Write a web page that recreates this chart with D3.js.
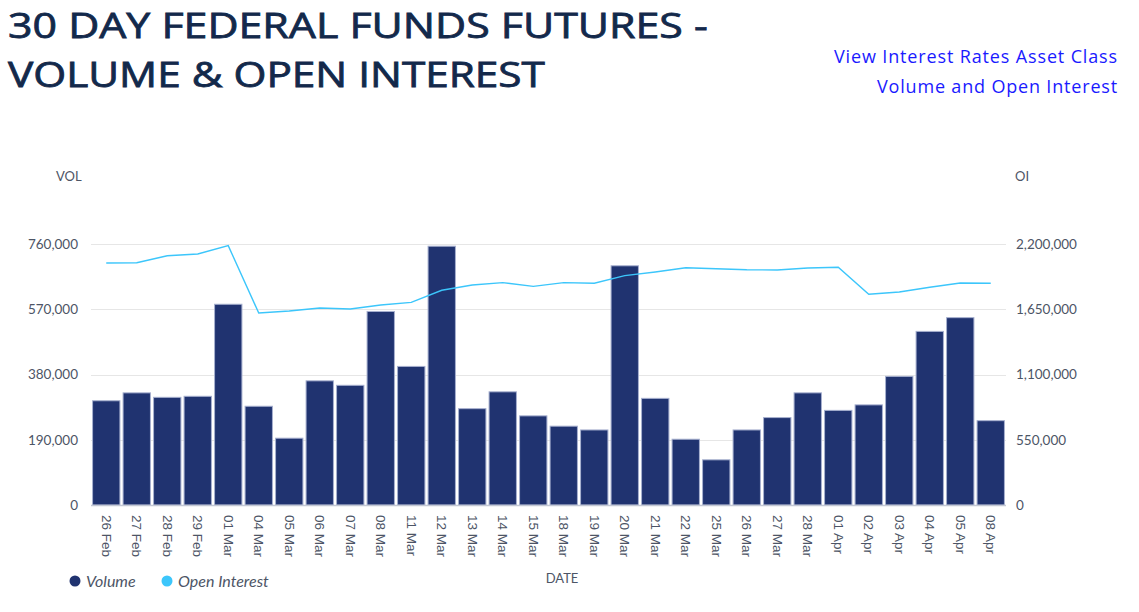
<!DOCTYPE html>
<html>
<head>
<meta charset="utf-8">
<script src="https://cdn.jsdelivr.net/npm/d3@7"></script>
<style>
  body { margin: 0; background: #fff; }
  svg { display: block; font-family: "Lato", "Open Sans", sans-serif; }
  .title { fill: #13294b; stroke: #13294b; stroke-width: 0.8px; font-family: "Open Sans", sans-serif; font-weight: 400; font-size: 35px; }
  .link { fill: #1a1aff; font-family: "Open Sans", sans-serif; font-size: 18px; }
  .axis-title { fill: #4d5566; font-size: 13px; }
  .tick text { fill: #4d5566; font-size: 13.5px; }
  .legend text { fill: #4d5566; font-size: 16px; font-style: italic; }
</style>
</head>
<body>
<script>

// categories
var dates = ['26 Feb', '27 Feb', '28 Feb', '29 Feb', '01 Mar', '04 Mar', '05 Mar', '06 Mar', '07 Mar', '08 Mar',
  '11 Mar', '12 Mar', '13 Mar', '14 Mar', '15 Mar', '18 Mar', '19 Mar', '20 Mar', '21 Mar', '22 Mar',
  '25 Mar', '26 Mar', '27 Mar', '28 Mar', '01 Apr', '02 Apr', '03 Apr', '04 Apr', '05 Apr', '08 Apr'];

// volume (bars, left axis)
var volume = [305000, 328000, 315000, 318000, 586000, 289000, 196000, 363000, 350000, 565000,
  405000, 755000, 282000, 331000, 261000, 231000, 220000, 698000, 312000, 193000,
  133000, 220000, 256000, 328000, 277000, 293000, 376000, 507000, 547000, 247000];

// open interest (line, right axis)
var openInterest = [2040000, 2042000, 2101000, 2116000, 2186000, 1618000, 1635000, 1661000, 1652000, 1686000,
  1708000, 1810000, 1854000, 1874000, 1843000, 1874000, 1869000, 1933000, 1964000, 2000000,
  1992000, 1983000, 1981000, 1998000, 2004000, 1776000, 1795000, 1835000, 1871000, 1869000];

var volTicks = [0, 190000, 380000, 570000, 760000];
var oiTicks = [0, 550000, 1100000, 1650000, 2200000];

var W = 1139, H = 612;
var plot = {left: 91, right: 1006, top: 244, bottom: 505};

var svg = d3.select("body").append("svg")
    .attr("width", W)
    .attr("height", H);

var x = d3.scaleBand()
    .domain(dates)
    .range([plot.left, plot.right])
    .paddingInner(0.07)
    .paddingOuter(0.035);

var y = d3.scaleLinear()
    .domain([0, 760000])
    .range([plot.bottom, plot.top]);

var y2 = d3.scaleLinear()
    .domain([0, 2200000])
    .range([plot.bottom, plot.top]);

// stretch a text to the width it has in the picture
function fitText(sel, target, x0, y0) {
  var w = sel.node().getComputedTextLength();
  sel.attr("x", 0).attr("y", 0)
     .attr("transform", "translate(" + x0 + "," + y0 + ") scale(" + (target / w) + ",1)");
}
function spaceText(sel, target) {
  var w = sel.node().getComputedTextLength();
  sel.style("letter-spacing", ((target - w) / sel.text().length) + "px");
}

var t1 = svg.append("text").attr("class", "title")
    .text("30 DAY FEDERAL FUNDS FUTURES -");
fitText(t1, 700, 8, 38);

var t2 = svg.append("text").attr("class", "title")
    .text("VOLUME & OPEN INTEREST");
fitText(t2, 537, 8, 87);

var l1 = svg.append("text").attr("class", "link")
    .attr("x", 834).attr("y", 63)
    .text("View Interest Rates Asset Class");
spaceText(l1, 284);

var l2 = svg.append("text").attr("class", "link")
    .attr("x", 877).attr("y", 93)
    .text("Volume and Open Interest");
spaceText(l2, 241);

// gridlines
svg.append("g")
    .selectAll("line")
    .data(volTicks.slice(1))
  .enter().append("line")
    .attr("x1", plot.left).attr("x2", plot.right)
    .attr("y1", function(d) { return Math.round(y(d)) + 0.5; })
    .attr("y2", function(d) { return Math.round(y(d)) + 0.5; })
    .attr("stroke", "#e6e6e6");

// left axis
var yAxis = d3.axisLeft(y).tickValues(volTicks).tickFormat(d3.format(",")).tickSize(0).tickPadding(0);
svg.append("g")
    .attr("transform", "translate(78,0)")
    .call(yAxis)
    .call(function(g) { g.select(".domain").remove(); })
    .selectAll("text").style("font-family", "Lato, sans-serif");

// right axis
var y2Axis = d3.axisRight(y2).tickValues(oiTicks).tickFormat(d3.format(",")).tickSize(0).tickPadding(0);
svg.append("g")
    .attr("transform", "translate(1016,0)")
    .call(y2Axis)
    .call(function(g) { g.select(".domain").remove(); })
    .selectAll("text").style("font-family", "Lato, sans-serif");

svg.append("text").attr("class", "axis-title")
    .attr("x", 56).attr("y", 181).text("VOL");
svg.append("text").attr("class", "axis-title")
    .attr("x", 1015).attr("y", 181).text("OI");

// bars
svg.append("g")
    .selectAll("rect")
    .data(volume)
  .enter().append("rect")
    .attr("x", function(d, i) { return x(dates[i]) + 0.5; })
    .attr("y", function(d) { return y(d) + 0.5; })
    .attr("width", x.bandwidth() - 1)
    .attr("height", function(d) { return y(0) - y(d) - 0.5; })
    .attr("fill", "#203370")
    .attr("stroke", "#a7b0cf")
    .attr("stroke-width", 1);

// x axis line
svg.append("line")
    .attr("x1", plot.left).attr("x2", plot.right)
    .attr("y1", plot.bottom + 0.5).attr("y2", plot.bottom + 0.5)
    .attr("stroke", "#c3c8d4")
    .attr("stroke-width", 1.5);

// open interest line
var line = d3.line()
    .x(function(d, i) { return x(dates[i]) + x.bandwidth() / 2; })
    .y(function(d) { return y2(d); });

svg.append("path")
    .datum(openInterest)
    .attr("d", line)
    .attr("fill", "none")
    .attr("stroke", "#3cc6fb")
    .attr("stroke-width", 1.4);

// x labels, rotated
var xAxis = d3.axisBottom(x).tickSize(0).tickPadding(0);
var gx = svg.append("g")
    .attr("transform", "translate(0," + (plot.bottom + 10) + ")")
    .call(xAxis);
gx.select(".domain").remove();
gx.selectAll("text")
    .attr("y", 0)
    .attr("x", 0)
    .attr("dy", "0.35em")
    .attr("transform", "rotate(90)")
    .style("text-anchor", "start")
    .style("font-size", "13.5px");

svg.append("text").attr("class", "axis-title")
    .attr("x", 562).attr("y", 583)
    .attr("text-anchor", "middle")
    .text("DATE");

// legend
var legendItems = [{name: 'Volume', color: '#203370', x: 75}, {name: 'Open Interest', color: '#3cc6fb', x: 167}];
var legend = svg.selectAll(".legend")
    .data(legendItems)
  .enter().append("g")
    .attr("class", "legend")
    .attr("transform", function(d) { return "translate(" + d.x + ",581)"; });

legend.append("circle")
    .attr("r", 5.5)
    .attr("fill", function(d) { return d.color; });

legend.append("text")
    .attr("x", 11)
    .attr("dy", "0.35em")
    .text(function(d) { return d.name; });

</script>
</body>
</html>
